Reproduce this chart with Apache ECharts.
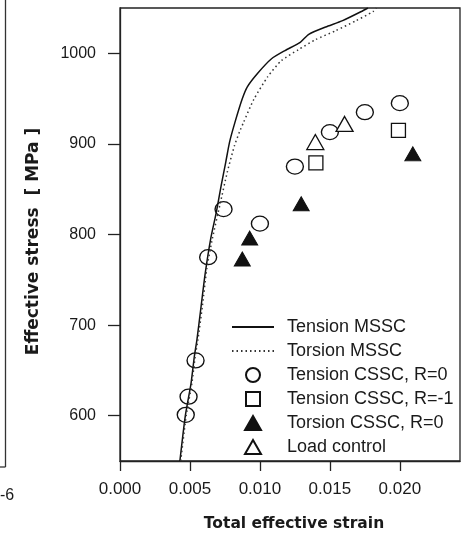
<!DOCTYPE html>
<html>
<head>
<meta charset="utf-8">
<script src="https://cdn.jsdelivr.net/npm/echarts@6/dist/echarts.min.js"></script>
<style>
  html, body { margin: 0; padding: 0; background: #fff; }
  #chart { width: 468px; height: 537px; }
</style>
</head>
<body>
<div id="chart"></div>
<script>
// curves
var tensionMsscStrain = [0.00428, 0.00467, 0.00508, 0.00531, 0.00550, 0.00579, 0.00608, 0.00649, 0.00689, 0.00723, 0.00756, 0.00783, 0.00822, 0.00872, 0.00910, 0.00984, 0.01083, 0.01179, 0.01288, 0.01349, 0.01470, 0.01591, 0.01736, 0.01772];
var tensionMsscStress = [550, 600, 636, 665, 684, 720, 756, 796, 825, 854, 880, 902, 924, 949, 963, 978, 994, 1003, 1012, 1021, 1029, 1036, 1047, 1050];

var torsionMsscStrain = [0.00434, 0.00473, 0.00514, 0.00537, 0.00557, 0.00588, 0.00621, 0.00661, 0.00713, 0.00767, 0.00818, 0.00856, 0.00881, 0.00956, 0.01055, 0.01154, 0.01275, 0.01397, 0.01542, 0.01687, 0.01808, 0.01832];
var torsionMsscStress = [550, 600, 636, 665, 684, 720, 763, 796, 832, 869, 898, 914, 923, 949, 974, 992, 1004, 1015, 1025, 1036, 1046, 1050];

// measured points
var tensionR0Strain = [0.0047, 0.0049, 0.0054, 0.0063, 0.0074, 0.0100, 0.0125, 0.0150, 0.0175, 0.0200];
var tensionR0Stress = [601, 621, 661, 775, 828, 812, 875, 913, 935, 945];

var tensionRm1Strain = [0.0140, 0.0199];
var tensionRm1Stress = [879, 915];

var torsionR0Strain = [0.00874, 0.00927, 0.01295, 0.02093];
var torsionR0Stress = [773, 796, 834, 889];

var loadControlStrain = [0.01396, 0.01605];
var loadControlStress = [902, 922];

var xTicks = [0, 0.005, 0.010, 0.015, 0.020];
var yTicks = [600, 700, 800, 900, 1000];

function pairs(xs, ys) {
  return xs.map(function (x, i) { return [x, ys[i]]; });
}

var ink = '#1a1a1a';
var font = 'Liberation Sans, Arial, sans-serif';
var noMarker = { color: 'transparent', borderColor: 'transparent', borderWidth: 0 };

var chart = echarts.init(document.getElementById('chart'));
chart.setOption({
  animation: false,
  backgroundColor: '#fff',
  grid: {
    left: 120,
    right: 8,
    top: 8,
    bottom: 73,
    show: true,
    borderColor: '#222',
    borderWidth: 1.3
  },
  legend: {
    orient: 'vertical',
    left: 231,
    top: 318,
    padding: 0,
    itemWidth: 42,
    itemHeight: 14,
    itemGap: 6,
    data: [
      { name: 'Tension MSSC', itemStyle: noMarker },
      { name: 'Torsion MSSC', itemStyle: noMarker },
      { name: 'Tension CSSC, R=0' },
      { name: 'Tension CSSC, R=-1', icon: 'path://M0,0h14v14h-14z' },
      { name: 'Torsion CSSC, R=0', icon: 'path://M8,0L16,14L0,14Z' },
      { name: 'Load control', icon: 'path://M8,0L16,14L0,14Z' }
    ],
    textStyle: {
      color: ink,
      fontSize: 18,
      fontFamily: font,
      padding: [0, 0, 0, 8]
    }
  },
  xAxis: {
    type: 'value',
    min: 0,
    max: 0.0243,
    name: 'Total effective strain',
    nameLocation: 'middle',
    nameGap: 55,
    nameTextStyle: {
      color: ink,
      fontSize: 15.5,
      fontWeight: 'bold',
      fontFamily: 'DejaVu Sans, sans-serif',
      padding: [0, 0, 0, 8]
    },
    axisLine: { show: true, lineStyle: { color: '#222', width: 1.3 } },
    axisTick: {
      show: true,
      inside: false,
      length: 10,
      customValues: xTicks,
      lineStyle: { color: '#222', width: 1.3 }
    },
    axisLabel: {
      customValues: xTicks,
      margin: 20,
      color: ink,
      fontSize: 17,
      fontFamily: font,
      formatter: function (v) { return v.toFixed(3); }
    },
    splitLine: { show: false }
  },
  yAxis: {
    type: 'value',
    min: 550,
    max: 1050,
    name: 'Effective stress  [ MPa ]',
    nameLocation: 'middle',
    nameGap: 78,
    nameTextStyle: {
      color: ink,
      fontSize: 17,
      fontWeight: 'bold',
      fontFamily: 'DejaVu Sans, sans-serif',
      padding: [0, 14, 0, 0]
    },
    axisLine: { show: true, lineStyle: { color: '#222', width: 1.3 } },
    axisTick: {
      show: true,
      inside: false,
      length: 12,
      customValues: yTicks,
      lineStyle: { color: '#222', width: 1.3 }
    },
    axisLabel: {
      customValues: yTicks,
      margin: 24,
      color: ink,
      fontSize: 16,
      fontFamily: font,
      formatter: function (v) { return String(v); }
    },
    splitLine: { show: false }
  },
  graphic: [
    // edge of the neighbouring figure on the scanned page
    { type: 'line', shape: { x1: 5.5, y1: 0, x2: 5.5, y2: 467 }, style: { stroke: '#333', lineWidth: 1.3 } },
    { type: 'line', shape: { x1: 0, y1: 467, x2: 5.5, y2: 467 }, style: { stroke: '#333', lineWidth: 1.3 } },
    { type: 'text', left: 0, top: 488, style: { text: '-6', font: '16px Liberation Sans, Arial', fill: ink } }
  ],
  series: [
    {
      name: 'Tension MSSC',
      type: 'line',
      symbol: 'none',
      smooth: 0.2,
      data: pairs(tensionMsscStrain, tensionMsscStress),
      lineStyle: { color: '#111', width: 1.5, type: 'solid' },
      itemStyle: { color: '#111' }
    },
    {
      name: 'Torsion MSSC',
      type: 'line',
      symbol: 'none',
      smooth: 0.2,
      data: pairs(torsionMsscStrain, torsionMsscStress),
      lineStyle: { color: '#333', width: 1.5, type: [1.5, 3] },
      itemStyle: { color: '#333' }
    },
    {
      name: 'Tension CSSC, R=0',
      type: 'scatter',
      symbol: 'circle',
      symbolSize: [17, 15],
      data: pairs(tensionR0Strain, tensionR0Stress),
      itemStyle: { color: '#fff', borderColor: '#111', borderWidth: 1.3, opacity: 1 }
    },
    {
      name: 'Tension CSSC, R=-1',
      type: 'scatter',
      symbol: 'rect',
      symbolSize: 14,
      data: pairs(tensionRm1Strain, tensionRm1Stress),
      itemStyle: { color: '#fff', borderColor: '#111', borderWidth: 1.3, opacity: 1 }
    },
    {
      name: 'Torsion CSSC, R=0',
      type: 'scatter',
      symbol: 'triangle',
      symbolSize: [16, 14],
      data: pairs(torsionR0Strain, torsionR0Stress),
      itemStyle: { color: '#111', borderColor: '#111', borderWidth: 1, opacity: 1 }
    },
    {
      name: 'Load control',
      type: 'scatter',
      symbol: 'triangle',
      symbolSize: [17, 15],
      data: pairs(loadControlStrain, loadControlStress),
      itemStyle: { color: '#fff', borderColor: '#111', borderWidth: 1.3, opacity: 1 }
    }
  ]
});
</script>
</body>
</html>
